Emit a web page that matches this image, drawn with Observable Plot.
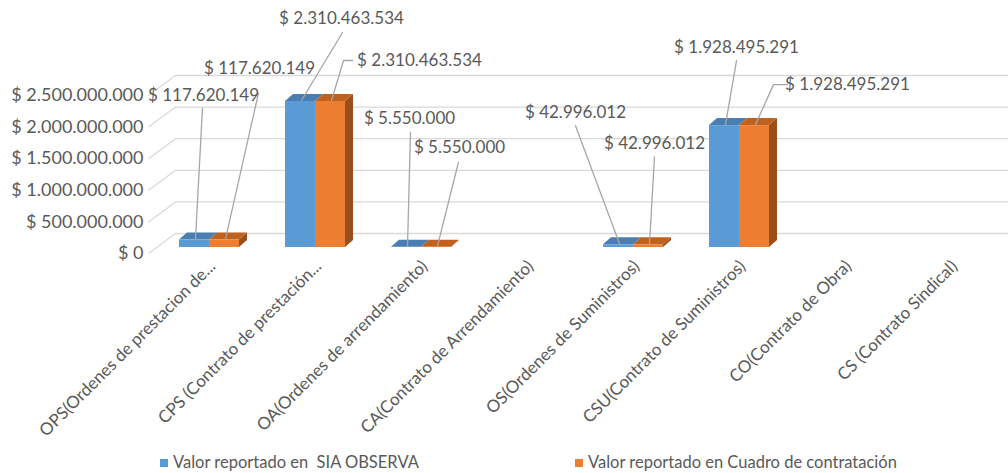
<!DOCTYPE html>
<html>
<head>
<meta charset="utf-8">
<script src="https://cdn.jsdelivr.net/npm/d3@7"></script>
<script src="https://cdn.jsdelivr.net/npm/@observablehq/plot@0.6"></script>
<style>
  html, body { margin: 0; padding: 0; background: #fff; }
  #wrap { position: relative; width: 1008px; height: 473px; font-family: Lato, "Open Sans", sans-serif; color: #595959; }
  #legend { position: absolute; left: 0; top: 452px; width: 1008px; height: 21px; font-size: 16.5px; }
  .lg { position: absolute; top: 0; line-height: 21px; white-space: pre; }
  .sw { display: inline-block; width: 8px; height: 8px; margin-right: 5px; vertical-align: 1px; }
</style>
</head>
<body>
<div id="wrap"><div id="chart"></div><div id="legend"></div></div>
<script>
// ---- data ----
const categories = [
  "OPS(Ordenes de prestacion de...",
  "CPS (Contrato de prestación...",
  "OA(Ordenes de arrendamiento)",
  "CA(Contrato de Arrendamiento)",
  "OS(Ordenes de Suministros)",
  "CSU(Contrato de Suministros)",
  "CO(Contrato de Obra)",
  "CS (Contrato Sindical)"
];
const seriesNames = ["Valor reportado en  SIA OBSERVA", "Valor reportado en Cuadro de contratación"];
const siaObserva = [117620149, 2310463534, 5550000, null, 42996012, 1928495291, null, null];
const cuadroContratacion = [117620149, 2310463534, 5550000, null, 42996012, 1928495291, null, null];
const yTicks = [0, 500000000, 1000000000, 1500000000, 2000000000, 2500000000];

// ---- layout / style (pixels) ----
const colors = {
  front: ["#5B9BD5", "#ED7D31"],
  top: ["#4A7EB1", "#BF621F"],
  side: ["#41719C", "#9A4E19"]
};
// data label placement relative to bar top: [textDx, textDy, leader points...]
const labelLayout = [
  [[8, -144, [7, -131]], [40, -82, [41, -68]], [2, -128, [3, -114]], null, [-44, -131, [-44, -118]], [11, -77, [11, -64]], null, null],
  [[34, -171, [33, -146]], [88, -40, [21, -40], [12, -40]], [22, -99, [21, -84]], null, [5, -100, [5, -87]], [92, -40, [32, -40], [18, -40]], null, null]
];

const W = 1008, H = 452;
const xDomain = [-0.5, 7.5], xRange = [156, 1004];
const yDomain = [0, 2500000000], yRange = [253, 95];
const X = Plot.scale({x: {type: "linear", domain: xDomain, range: xRange}});
const kx = (xRange[1] - xRange[0]) / (xDomain[1] - xDomain[0]);
const ky = (yRange[0] - yRange[1]) / (yDomain[1] - yDomain[0]);
const ux = p => p / kx;   // pixel distance -> x units
const uy = p => p / ky;   // pixel distance (upwards) -> y units

const loc = d3.formatLocale({decimal: ",", thousands: ".", grouping: [3], currency: ["$ ", ""]});
const fmt = loc.format("$,.0f");

const barW = 30, depthX = 8, depthY = 7, lift = 6;
const series = [siaObserva, cuadroContratacion];

const fronts = [], tops = [], sides = [], labels = [], leaders = [];
series.forEach((vals, s) => {
  vals.forEach((v, i) => {
    if (v == null) return;
    const x0 = i + (s === 0 ? -ux(barW) : 0), x1 = x0 + ux(barW);
    const d = ux(depthX), e = uy(depthY);
    fronts.push({x1: x0, x2: x1, y1: 0, y2: v, fill: colors.front[s]});
    const id = `t${s}-${i}`;
    tops.push({id, x: x0, y1: v, y2: v, fill: colors.top[s]});
    tops.push({id, x: x0 + d, y1: v, y2: v + e, fill: colors.top[s]});
    tops.push({id, x: x1, y1: v, y2: v + e, fill: colors.top[s]});
    tops.push({id, x: x1 + d, y1: v + e, y2: v + e, fill: colors.top[s]});
    if (s === 1) {
      const sid = `s${s}-${i}`;
      sides.push({id: sid, x: x1, y1: 0, y2: v, fill: colors.side[s]});
      sides.push({id: sid, x: x1 + d, y1: e, y2: v + e, fill: colors.side[s]});
    }
    const lay = labelLayout[s][i];
    if (!lay) return;
    const ax = i + ux(s === 0 ? -14 : 16), ay = v + uy(7);
    labels.push({x: ax + ux(lay[0]), y: ay + uy(-lay[1]), text: fmt(v)});
    const lid = `l${s}-${i}`;
    lay.slice(2).forEach(p => leaders.push({id: lid, x: ax + ux(p[0]), y: ay + uy(-p[1])}));
    leaders.push({id: lid, x: ax, y: ay});
  });
});

const chart = Plot.plot({
  width: W,
  height: H,
  marginLeft: xRange[0], marginRight: W - xRange[1],
  marginTop: yRange[1], marginBottom: H - yRange[0],
  x: {type: "linear", domain: xDomain, range: xRange, axis: null},
  y: {type: "linear", domain: yDomain, range: yRange},
  color: {type: "identity"},
  style: {fontFamily: "Lato, 'Open Sans', sans-serif", fontSize: "17px", color: "#595959", background: "#fff", overflow: "visible"},
  marks: [
    // back wall gridlines
    Plot.ruleY(yTicks, {y: d => d, x1: X.invert(175), x2: X.invert(1008), dy: -20, stroke: "#D9D9D9", strokeWidth: 1.3}),
    Plot.link(yTicks, {x1: X.invert(148), y1: d => d, x2: X.invert(175), y2: d => d + uy(20), stroke: "#D9D9D9", strokeWidth: 1.3}),
    // y axis labels
    Plot.axisY({ticks: yTicks, tickFormat: fmt, tickSize: 0, tickPadding: 13, fontSize: 18}),
    // x axis labels
    Plot.text(categories, {x: (d, i) => i, y: 0, text: d => d, rotate: -45, textAnchor: "end", dx: 3, dy: 10, fontSize: 17, fill: "#595959"}),
    // 3D bars
    Plot.areaY(sides, {x: "x", y1: "y1", y2: "y2", z: "id", fill: "fill", dy: -lift}),
    Plot.areaY(tops, {x: "x", y1: "y1", y2: "y2", z: "id", fill: "fill", dy: -lift}),
    Plot.rect(fronts, {x1: "x1", x2: "x2", y1: "y1", y2: "y2", fill: "fill", dy: -lift}),
    // leader lines and data labels
    Plot.line(leaders, {x: "x", y: "y", z: "id", stroke: "#A6A6A6", strokeWidth: 1.3}),
    Plot.text(labels, {x: "x", y: "y", text: "text", fontSize: 17, fill: "#595959"})
  ]
});
document.getElementById("chart").append(chart);

// legend
const legend = document.getElementById("legend");
const legendX = [160, 575];
seriesNames.forEach((name, s) => {
  const el = document.createElement("div");
  el.className = "lg";
  el.style.left = legendX[s] + "px";
  el.innerHTML = `<span class="sw" style="background:${colors.front[s]}"></span>`;
  el.append(document.createTextNode(name));
  legend.append(el);
});
</script>
</body>
</html>
